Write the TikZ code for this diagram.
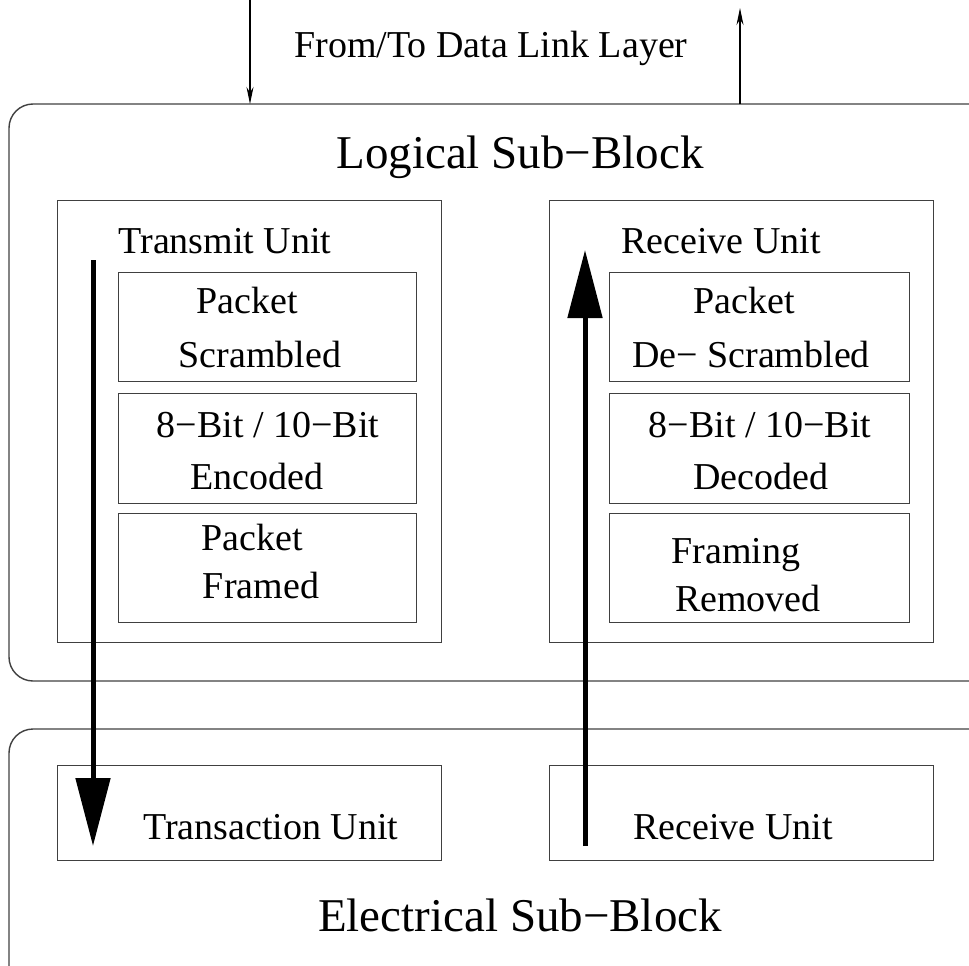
\documentclass[tikz,border=0pt]{standalone}
\usepackage{fontspec}
\setmainfont{Liberation Serif}
\usetikzlibrary{arrows.meta}
\begin{document}
\begin{tikzpicture}[x=1pt,y=-1pt,
  bigbox/.style={draw=black!75,line width=1.4pt,rounded corners=24pt},
  unitbox/.style={draw=black!75,line width=1.4pt,anchor=north west,inner sep=0pt},
  txt/.style={font=\fontsize{38}{54}\selectfont,inner sep=0pt,anchor=base},
  title/.style={font=\fontsize{47}{56}\selectfont,inner sep=0pt},
  thick arrow/.style={line width=5pt,-{Triangle[length=68pt,width=34pt]}},
  thin arrow/.style={line width=1.2pt,-{Stealth[length=17pt,width=7pt]}}]
\useasboundingbox (0,0) rectangle (969,966);
\clip (0,0) rectangle (969,966);
% big blocks
\draw[bigbox] (9,104) rectangle (1060,681);
\draw[bigbox] (9,729) rectangle (1060,1000);
% titles
\node[title] (logical) at (520,157) {Logical Sub−Block};
\node[title] (electrical) at (520,915) {Electrical Sub−Block};
\node[txt,anchor=center] (dll) at (491,48) {From/To Data Link Layer};
% transmit side
\node[unitbox,minimum width=384pt,minimum height=442pt] (tu) at (57,200) {};
\node[txt] (tutxt) at (225,253) {Transmit Unit};
\node[unitbox,minimum width=298pt,minimum height=109pt] (ts1) at (118,272) {};
\node[unitbox,minimum width=298pt,minimum height=110pt] (ts2) at (118,393) {};
\node[unitbox,minimum width=298pt,minimum height=109pt] (ts3) at (118,513) {};
\node[txt] (ts1a) at (247,313) {Packet};
\node[txt] (ts1b) at (260,367) {Scrambled};
\node[txt] (ts2a) at (268,437) {8−Bit / 10−Bit};
\node[txt] (ts2b) at (257,489) {Encoded};
\node[txt] (ts3a) at (252,550) {Packet};
\node[txt] (ts3b) at (261,598) {Framed};
% receive side
\node[unitbox,minimum width=384pt,minimum height=442pt] (ru) at (549,200) {};
\node[txt] (rutxt) at (721,253) {Receive Unit};
\node[unitbox,minimum width=300pt,minimum height=109pt] (rs1) at (609,272) {};
\node[unitbox,minimum width=300pt,minimum height=110pt] (rs2) at (609,393) {};
\node[unitbox,minimum width=300pt,minimum height=109pt] (rs3) at (609,513) {};
\node[txt] (rs1a) at (744,313) {Packet};
\node[txt] (rs1b) at (751,367) {De− Scrambled};
\node[txt] (rs2a) at (760,437) {8−Bit / 10−Bit};
\node[txt] (rs2b) at (761,489) {Decoded};
\node[txt] (rs3a) at (736,563) {Framing};
\node[txt] (rs3b) at (748,611) {Removed};
% electrical units
\node[unitbox,minimum width=384pt,minimum height=95pt] (tx) at (57,765) {};
\node[txt] (txtxt) at (271,839) {Transaction Unit};
\node[unitbox,minimum width=384pt,minimum height=95pt] (rx) at (549,765) {};
\node[txt] (rxtxt) at (733,839) {Receive Unit};
% thick flow arrows
\coordinate (tstart) at (93,260);
\coordinate (tend) at (93,846);
\coordinate (rstart) at (585,846);
\coordinate (rend) at (585,250);
\draw[thick arrow] (tstart) -- (tend);
\draw[thick arrow] (rstart) -- (rend);
% thin arrows
\coordinate (din0) at (250,0);
\coordinate (din1) at (250,104);
\coordinate (dout0) at (740,104);
\coordinate (dout1) at (740,8);
\draw[thin arrow] (din0) -- (din1);
\draw[thin arrow] (dout0) -- (dout1);
\end{tikzpicture}
\end{document}
